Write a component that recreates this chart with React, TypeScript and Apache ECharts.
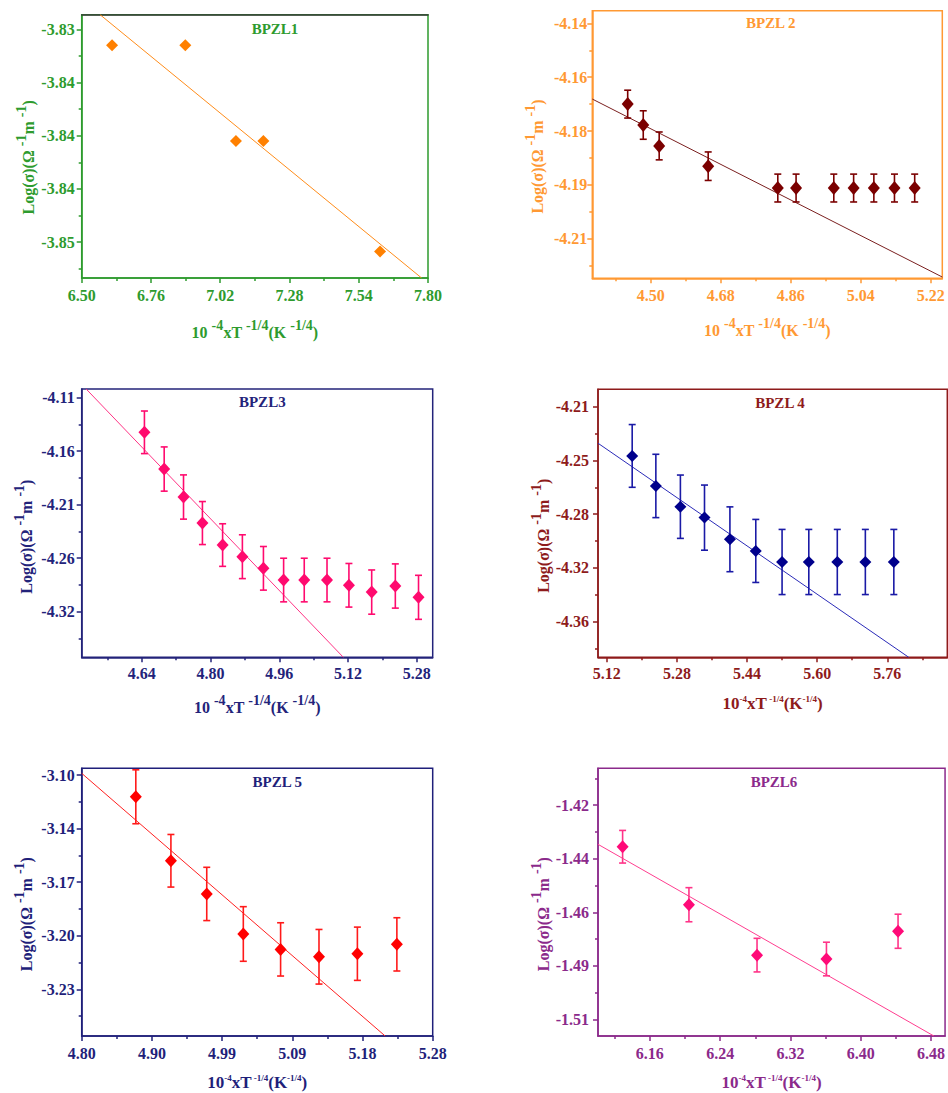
import React, { useEffect, useRef } from 'react';
import * as echarts from 'echarts';

const FONT = '"Liberation Serif", "Times New Roman", Times, serif';

// ---------- BPZL1 ----------
const p1X = [6.614, 6.889, 7.079, 7.182, 7.62];
const p1Y = [-3.8332, -3.8332, -3.8404, -3.8404, -3.8487];
const p1FitX = [6.569, 7.776];
const p1FitY = [-3.8309, -3.8507];
const p1XTicks = [6.5, 6.76, 7.02, 7.28, 7.54, 7.8];
const p1XLabels = ['6.50', '6.76', '7.02', '7.28', '7.54', '7.80'];
const p1XMinor = [6.63, 6.89, 7.15, 7.41, 7.67];
const p1YTicks = [-3.832, -3.836, -3.84, -3.844, -3.848];
const p1YLabels = ['-3.83', '-3.84', '-3.84', '-3.84', '-3.85'];
const p1YMinor = [-3.834, -3.838, -3.842, -3.846, -3.85];

// ---------- BPZL2 ----------
const p2X = [4.441, 4.481, 4.522, 4.648, 4.827, 4.874, 4.971, 5.022, 5.074, 5.127, 5.179];
const p2Y = [-4.1675, -4.1741, -4.1807, -4.1871, -4.194, -4.194, -4.194, -4.194, -4.194, -4.194, -4.194];
const p2Err = [0.0044, 0.0045, 0.0044, 0.0045, 0.0044, 0.0044, 0.0044, 0.0044, 0.0044, 0.0044, 0.0044];
const p2FitX = [4.35, 5.25];
const p2FitY = [-4.1659, -4.2221];
const p2XTicks = [4.5, 4.68, 4.86, 5.04, 5.22];
const p2XLabels = ['4.50', '4.68', '4.86', '5.04', '5.22'];
const p2XMinor = [4.41, 4.59, 4.77, 4.95, 5.13];
const p2YTicks = [-4.142, -4.159, -4.176, -4.193, -4.21];
const p2YLabels = ['-4.14', '-4.16', '-4.18', '-4.19', '-4.21'];
const p2YMinor = [-4.1505, -4.1675, -4.1845, -4.2015, -4.2185];

// ---------- BPZL3 ----------
const p3X = [4.646, 4.692, 4.737, 4.781, 4.828, 4.874, 4.923, 4.97, 5.018, 5.071, 5.122, 5.175, 5.23, 5.284];
const p3Y = [-4.1416, -4.1773, -4.2045, -4.2298, -4.2512, -4.2625, -4.2738, -4.2852, -4.2852, -4.2852, -4.2903, -4.2969, -4.291, -4.302];
const p3Err = [0.0207, 0.0215, 0.0215, 0.0209, 0.0207, 0.0213, 0.0212, 0.0212, 0.0212, 0.0212, 0.0212, 0.0215, 0.0215, 0.0214];
const p3FitX = [4.5104, 5.109];
const p3FitY = [-4.0995, -4.3603];
const p3XTicks = [4.64, 4.8, 4.96, 5.12, 5.28];
const p3XLabels = ['4.64', '4.80', '4.96', '5.12', '5.28'];
const p3XMinor = [4.56, 4.72, 4.88, 5.04, 5.2];
const p3YTicks = [-4.108, -4.16, -4.212, -4.264, -4.316];
const p3YLabels = ['-4.11', '-4.16', '-4.21', '-4.26', '-4.32'];
const p3YMinor = [-4.134, -4.186, -4.238, -4.29, -4.342];

// ---------- BPZL4 ----------
const p4X = [5.178, 5.232, 5.288, 5.343, 5.401, 5.46, 5.52, 5.581, 5.646, 5.71, 5.775];
const p4Y = [-4.245, -4.2651, -4.279, -4.2863, -4.3008, -4.3086, -4.316, -4.316, -4.316, -4.316, -4.316];
const p4Err = [0.021, 0.0212, 0.0212, 0.0218, 0.0217, 0.0211, 0.0218, 0.0218, 0.0218, 0.0218, 0.0218];
const p4FitX = [5.1, 5.809];
const p4FitY = [-4.2365, -4.3798];
const p4XTicks = [5.12, 5.28, 5.44, 5.6, 5.76];
const p4XLabels = ['5.12', '5.28', '5.44', '5.60', '5.76'];
const p4XMinor = [5.2, 5.36, 5.52, 5.68, 5.84];
const p4YTicks = [-4.212, -4.248, -4.284, -4.32, -4.356];
const p4YLabels = ['-4.21', '-4.25', '-4.28', '-4.32', '-4.36'];
const p4YMinor = [-4.23, -4.266, -4.302, -4.338, -4.374];

// ---------- BPZL5 ----------
const p5X = [4.874, 4.922, 4.971, 5.021, 5.072, 5.1245, 5.177, 5.231];
const p5Y = [-3.117, -3.1552, -3.175, -3.1989, -3.2081, -3.2125, -3.2107, -3.2051];
const p5Err = [0.0161, 0.0157, 0.0159, 0.0163, 0.0159, 0.0163, 0.0159, 0.0159];
const p5FitX = [4.8, 5.215];
const p5FitY = [-3.103, -3.2598];
const p5XTicks = [4.8, 4.896, 4.992, 5.088, 5.184, 5.28];
const p5XLabels = ['4.80', '4.90', '4.99', '5.09', '5.18', '5.28'];
const p5XMinor = [4.848, 4.944, 5.04, 5.136, 5.232];
const p5YTicks = [-3.104, -3.136, -3.168, -3.2, -3.232];
const p5YLabels = ['-3.10', '-3.14', '-3.17', '-3.20', '-3.23'];
const p5YMinor = [-3.12, -3.152, -3.184, -3.216, -3.248];

// ---------- BPZL6 ----------
const p6X = [6.129, 6.2045, 6.282, 6.361, 6.4425];
const p6Y = [-1.4371, -1.4609, -1.4816, -1.4832, -1.4718];
const p6Err = [0.0067, 0.007, 0.0069, 0.0069, 0.007];
const p6FitX = [6.101, 6.4833];
const p6FitY = [-1.4361, -1.5148];
const p6XTicks = [6.16, 6.24, 6.32, 6.4, 6.48];
const p6XLabels = ['6.16', '6.24', '6.32', '6.40', '6.48'];
const p6XMinor = [6.12, 6.2, 6.28, 6.36, 6.44];
const p6YTicks = [-1.42, -1.442, -1.464, -1.486, -1.508];
const p6YLabels = ['-1.42', '-1.44', '-1.46', '-1.49', '-1.51'];
const p6YMinor = [-1.409, -1.431, -1.453, -1.475, -1.497];

const titles = ['BPZL1', 'BPZL 2', 'BPZL3', 'BPZL 4', 'BPZL 5', 'BPZL6'];

type Panel = {
  box: number[];
  color: string;
  topColor?: string;
  xRange: number[];
  yRange: number[];
  xTicks: number[];
  xLabels: string[];
  xMinor: number[];
  yTicks: number[];
  yLabels: string[];
  yMinor: number[];
  xs: number[];
  ys: number[];
  errs?: number[];
  fitX: number[];
  fitY: number[];
  marker: string;
  errColor: string;
  lineColor: string;
  symbolSize: number[];
  title: string;
  titlePos: number[];
  smallSup: boolean;
  xNameGap: number;
  yNameGap: number;
  yShift: number;
  xLabelMargin: number;
  yLabelMargin: number;
};

const panels: Panel[] = [
  {
    box: [81.7, 14.7, 346.3, 263.3], color: '#2E9B2E', topColor: '#3A3A3A',
    xRange: [6.5, 7.8], yRange: [-3.8507, -3.8309],
    xTicks: p1XTicks, xLabels: p1XLabels, xMinor: p1XMinor,
    yTicks: p1YTicks, yLabels: p1YLabels, yMinor: p1YMinor,
    xs: p1X, ys: p1Y, fitX: p1FitX, fitY: p1FitY,
    marker: '#FF8000', errColor: '#FF8000', lineColor: '#FF8C1A', symbolSize: [12, 12],
    title: titles[0], titlePos: [275, 29.3], smallSup: false,
    xNameGap: 40, yNameGap: 45, yShift: 22, xLabelMargin: 9, yLabelMargin: 7,
  },
  {
    box: [592.3, 10.7, 350, 267.6], color: '#FF9933',
    xRange: [4.35, 5.25], yRange: [-4.2225, -4.138],
    xTicks: p2XTicks, xLabels: p2XLabels, xMinor: p2XMinor,
    yTicks: p2YTicks, yLabels: p2YLabels, yMinor: p2YMinor,
    xs: p2X, ys: p2Y, errs: p2Err, fitX: p2FitX, fitY: p2FitY,
    marker: '#7B0000', errColor: '#7B0000', lineColor: '#7A1F1F', symbolSize: [12, 14],
    title: titles[1], titlePos: [770.7, 23.3], smallSup: false,
    xNameGap: 38, yNameGap: 47, yShift: 24, xLabelMargin: 9, yLabelMargin: 5,
  },
  {
    box: [81.7, 389, 351, 268.3], color: '#23237A',
    xRange: [4.5, 5.317], yRange: [-4.3603, -4.0995],
    xTicks: p3XTicks, xLabels: p3XLabels, xMinor: p3XMinor,
    yTicks: p3YTicks, yLabels: p3YLabels, yMinor: p3YMinor,
    xs: p3X, ys: p3Y, errs: p3Err, fitX: p3FitX, fitY: p3FitY,
    marker: '#FF0A6E', errColor: '#FF0A6E', lineColor: '#FF3385', symbolSize: [12, 13],
    title: titles[2], titlePos: [262.3, 402.3], smallSup: false,
    xNameGap: 36, yNameGap: 47, yShift: 27, xLabelMargin: 8, yLabelMargin: 7,
  },
  {
    box: [598, 389.3, 349.3, 268], color: '#8E1B1B',
    xRange: [5.1, 5.897], yRange: [-4.3798, -4.2004],
    xTicks: p4XTicks, xLabels: p4XLabels, xMinor: p4XMinor,
    yTicks: p4YTicks, yLabels: p4YLabels, yMinor: p4YMinor,
    xs: p4X, ys: p4Y, errs: p4Err, fitX: p4FitX, fitY: p4FitY,
    marker: '#00008C', errColor: '#1A1AA6', lineColor: '#2B2BB8', symbolSize: [12, 12],
    title: titles[3], titlePos: [780, 402.7], smallSup: true,
    xNameGap: 37, yNameGap: 47, yShift: 25, xLabelMargin: 8, yLabelMargin: 9,
  },
  {
    box: [81.7, 768.3, 351, 267.7], color: '#1F1F7A',
    xRange: [4.8, 5.28], yRange: [-3.2598, -3.1],
    xTicks: p5XTicks, xLabels: p5XLabels, xMinor: p5XMinor,
    yTicks: p5YTicks, yLabels: p5YLabels, yMinor: p5YMinor,
    xs: p5X, ys: p5Y, errs: p5Err, fitX: p5FitX, fitY: p5FitY,
    marker: '#FF0000', errColor: '#FF1A1A', lineColor: '#FF2020', symbolSize: [12, 13],
    title: titles[4], titlePos: [277.3, 781.7], smallSup: true,
    xNameGap: 37, yNameGap: 47, yShift: 24, xLabelMargin: 9, yLabelMargin: 7,
  },
  {
    box: [598, 768.3, 349, 267.7], color: '#8B2A8B',
    xRange: [6.101, 6.496], yRange: [-1.5148, -1.4049],
    xTicks: p6XTicks, xLabels: p6XLabels, xMinor: p6XMinor,
    yTicks: p6YTicks, yLabels: p6YLabels, yMinor: p6YMinor,
    xs: p6X, ys: p6Y, errs: p6Err, fitX: p6FitX, fitY: p6FitY,
    marker: '#FF0A78', errColor: '#FF3388', lineColor: '#FF3D8F', symbolSize: [12, 13],
    title: titles[5], titlePos: [774, 781.7], smallSup: true,
    xNameGap: 37, yNameGap: 47, yShift: 24, xLabelMargin: 9, yLabelMargin: 9,
  },
];

function fmt(ticks: number[], labels: string[]) {
  return (v: number) => {
    for (let i = 0; i < ticks.length; i++) {
      if (Math.abs(ticks[i] - v) < 1e-7) return labels[i];
    }
    return '';
  };
}

function buildOption() {
  const grid: any[] = [];
  const xAxis: any[] = [];
  const yAxis: any[] = [];
  const series: any[] = [];
  const graphic: any[] = [];

  panels.forEach((p, gi) => {
    grid.push({
      left: p.box[0], top: p.box[1], width: p.box[2], height: p.box[3],
      show: true, borderColor: p.color, borderWidth: 1.5, backgroundColor: 'transparent',
    });
    const xi = xAxis.length;
    const yi = yAxis.length;
    const labelStyle = { color: p.color, fontFamily: FONT, fontWeight: 'bold', fontSize: 16 };
    const xRich = p.smallSup
      ? {
          n: { fontSize: 17, fontFamily: FONT, fontWeight: 'bold', color: p.color, lineHeight: 18, verticalAlign: 'bottom' },
          s: { fontSize: 9, fontFamily: FONT, fontWeight: 'bold', color: p.color, lineHeight: 18, verticalAlign: 'top' },
        }
      : {
          n: { fontSize: 16, fontFamily: FONT, fontWeight: 'bold', color: p.color, lineHeight: 22, verticalAlign: 'bottom' },
          s: { fontSize: 14, fontFamily: FONT, fontWeight: 'bold', color: p.color, lineHeight: 22, verticalAlign: 'top' },
        };
    const xName = p.smallSup
      ? '{n|10}{s|-4}{n|xT}{s| -1/4}{n|(K}{s|-1/4}{n|)}'
      : '{n|10 }{s|-4}{n|xT }{s|-1/4}{n|(K }{s|-1/4}{n|)}';
    const yRich = {
      n: { fontSize: 16, fontFamily: FONT, fontWeight: 'bold', color: p.color, lineHeight: 22, verticalAlign: 'bottom' },
      s: { fontSize: 14, fontFamily: FONT, fontWeight: 'bold', color: p.color, lineHeight: 22, verticalAlign: 'top' },
    };

    xAxis.push({
      type: 'value', gridIndex: gi, position: 'bottom', min: p.xRange[0], max: p.xRange[1],
      axisLine: { show: true, onZero: false, lineStyle: { color: p.color, width: 1.5 } },
      axisTick: { show: true, inside: false, length: 5, customValues: p.xTicks, lineStyle: { color: p.color, width: 1.5 } },
      axisLabel: { show: true, customValues: p.xTicks, formatter: fmt(p.xTicks, p.xLabels), margin: p.xLabelMargin, ...labelStyle },
      splitLine: { show: false },
      name: xName, nameLocation: 'middle', nameGap: p.xNameGap,
      nameTextStyle: { color: p.color, fontFamily: FONT, fontWeight: 'bold', fontSize: 16, rich: xRich },
    });
    xAxis.push({
      type: 'value', gridIndex: gi, position: 'bottom', min: p.xRange[0], max: p.xRange[1],
      axisLine: { show: false, onZero: false },
      axisTick: { show: true, inside: false, length: 3, customValues: p.xMinor, lineStyle: { color: p.color, width: 1.5 } },
      axisLabel: { show: false },
      splitLine: { show: false },
    });
    if (p.topColor) {
      xAxis.push({
        type: 'value', gridIndex: gi, position: 'top', min: p.xRange[0], max: p.xRange[1],
        axisLine: { show: true, onZero: false, lineStyle: { color: p.topColor, width: 1.5 } },
        axisTick: { show: false }, axisLabel: { show: false }, splitLine: { show: false },
      });
    }
    yAxis.push({
      type: 'value', gridIndex: gi, position: 'left', min: p.yRange[0], max: p.yRange[1],
      axisLine: { show: true, onZero: false, lineStyle: { color: p.color, width: 1.5 } },
      axisTick: { show: true, inside: false, length: 5, customValues: p.yTicks, lineStyle: { color: p.color, width: 1.5 } },
      axisLabel: { show: true, customValues: p.yTicks, formatter: fmt(p.yTicks, p.yLabels), margin: p.yLabelMargin, ...labelStyle },
      splitLine: { show: false },
      name: '{n|Log(σ)(Ω }{s|-1}{n|m }{s|-1}{n|)}', nameLocation: 'middle', nameGap: p.yNameGap, nameRotate: 90,
      nameTextStyle: { color: p.color, fontFamily: FONT, fontWeight: 'bold', fontSize: 16, rich: yRich, padding: [0, p.yShift, 0, 0] },
    });
    yAxis.push({
      type: 'value', gridIndex: gi, position: 'left', min: p.yRange[0], max: p.yRange[1],
      axisLine: { show: false, onZero: false },
      axisTick: { show: true, inside: false, length: 3, customValues: p.yMinor, lineStyle: { color: p.color, width: 1.5 } },
      axisLabel: { show: false },
      splitLine: { show: false },
    });

    series.push({
      type: 'line', xAxisIndex: xi, yAxisIndex: yi, silent: true,
      data: p.fitX.map((x, k) => [x, p.fitY[k]]),
      symbol: 'none', showSymbol: false,
      lineStyle: { color: p.lineColor, width: 1 },
      z: 2,
    });
    if (p.errs) {
      const ec = p.errColor;
      series.push({
        type: 'custom', xAxisIndex: xi, yAxisIndex: yi, silent: true,
        data: p.xs.map((x, k) => [x, p.ys[k], (p.errs as number[])[k]]),
        encode: { x: 0, y: 1 },
        renderItem: (params: any, api: any) => {
          const x = api.value(0);
          const y = api.value(1);
          const e = api.value(2);
          const a = api.coord([x, y + e]);
          const b = api.coord([x, y - e]);
          const w = 3.5;
          const st = { stroke: ec, lineWidth: 1.6 };
          return {
            type: 'group',
            children: [
              { type: 'line', shape: { x1: a[0], y1: a[1], x2: b[0], y2: b[1] }, style: st },
              { type: 'line', shape: { x1: a[0] - w, y1: a[1], x2: a[0] + w, y2: a[1] }, style: st },
              { type: 'line', shape: { x1: b[0] - w, y1: b[1], x2: b[0] + w, y2: b[1] }, style: st },
            ],
          };
        },
        z: 3,
      });
    }
    series.push({
      type: 'scatter', xAxisIndex: xi, yAxisIndex: yi, silent: true,
      data: p.xs.map((x, k) => [x, p.ys[k]]),
      symbol: 'diamond', symbolSize: p.symbolSize,
      itemStyle: { color: p.marker, opacity: 1 },
      z: 4,
    });

    graphic.push({
      type: 'text', x: p.titlePos[0], y: p.titlePos[1], z: 10,
      style: {
        text: p.title, fill: p.color, font: `bold 15px ${FONT}`,
        align: 'center', verticalAlign: 'middle', textAlign: 'center', textVerticalAlign: 'middle',
      },
    });
  });

  return {
    animation: false,
    backgroundColor: '#ffffff',
    grid, xAxis, yAxis, series, graphic,
  };
}

export default function App() {
  const ref = useRef<HTMLDivElement>(null);
  useEffect(() => {
    if (!ref.current) return;
    const chart = echarts.init(ref.current, undefined, { renderer: 'svg' });
    chart.setOption(buildOption() as any);
    return () => chart.dispose();
  }, []);
  return (
    <div
      ref={ref}
      style={{ position: 'fixed', left: 0, top: 0, width: 948, height: 1093, background: '#fff' }}
    />
  );
}
